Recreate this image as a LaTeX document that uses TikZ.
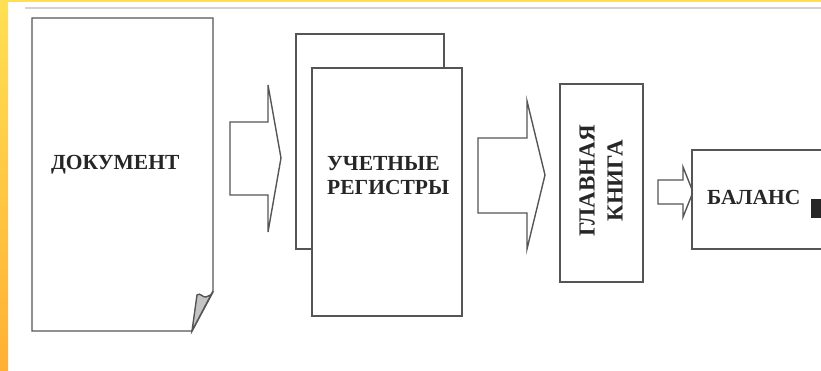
\documentclass[tikz,border=0pt]{standalone}
\usepackage{fontspec}
\setmainfont{Liberation Serif}
\definecolor{edge}{HTML}{555555}
\definecolor{foldgray}{HTML}{C4C4C4}
\definecolor{baryellow}{HTML}{FFE055}
\definecolor{barorange}{HTML}{FFB033}
\definecolor{rule}{HTML}{D2D2D2}
\begin{document}
\begin{tikzpicture}[x=1pt,y=-1pt,line join=miter,
  shapeline/.style={draw=edge,line width=1.4pt},
  lbl/.style={font=\bfseries\fontsize{21.5}{24}\selectfont,text=black!85,inner sep=0pt}]
\useasboundingbox (0,0) rectangle (821,371);
\fill[white] (0,0) rectangle (821,371);
% frame decoration
\shade[top color=baryellow,bottom color=barorange] (0,0) rectangle (8,371);
\fill[baryellow] (0,0) rectangle (821,2.5);
\draw[rule,line width=2pt] (25,8) -- (821,8);
% document
\draw[shapeline,fill=white] (32,18) -- (213,18) -- (213,292) -- (192,331) -- (32,331) -- cycle;
\draw[shapeline,fill=foldgray] (192,331) -- (197,295) .. controls (200,292) and (203,298) .. (206,297) .. controls (209,296) and (212,295) .. (213,291) -- cycle;
\node[lbl,anchor=west] (doc) at (51,165) {ДОКУМЕНТ};
% arrow 1
\draw[shapeline,fill=white] (230,122) -- (268,122) -- (268,85) -- (281,158) -- (268,232) -- (268,195) -- (230,195) -- cycle;
% registers
\draw[shapeline,fill=white] (296,34) rectangle (444,249);
\draw[shapeline,fill=white] (312,68) rectangle (462,316);
\node[lbl,anchor=west,align=left] (reg) at (327,176) {УЧЕТНЫЕ\\РЕГИСТРЫ};
% arrow 2
\draw[shapeline,fill=white] (478,138) -- (527,138) -- (527,101) -- (545,175) -- (527,249) -- (527,213) -- (478,213) -- cycle;
% general ledger
\draw[shapeline,fill=white] (560,84) rectangle (643,282);
\node[lbl,rotate=90,align=center,font=\bfseries\fontsize{23}{28}\selectfont] (book) at (601,181) {ГЛАВНАЯ\\КНИГА};
% arrow 3
\draw[shapeline,fill=white] (658,180) -- (683,180) -- (683,167) -- (693,192) -- (683,217) -- (683,204) -- (658,204) -- cycle;
% balance
\draw[shapeline,fill=white] (830,150) -- (692,150) -- (692,249) -- (830,249);
\node[lbl,anchor=west] (bal) at (707,197) {БАЛАНС};
\fill[black!85] (811,199) rectangle (821,218);
\end{tikzpicture}
\end{document}
